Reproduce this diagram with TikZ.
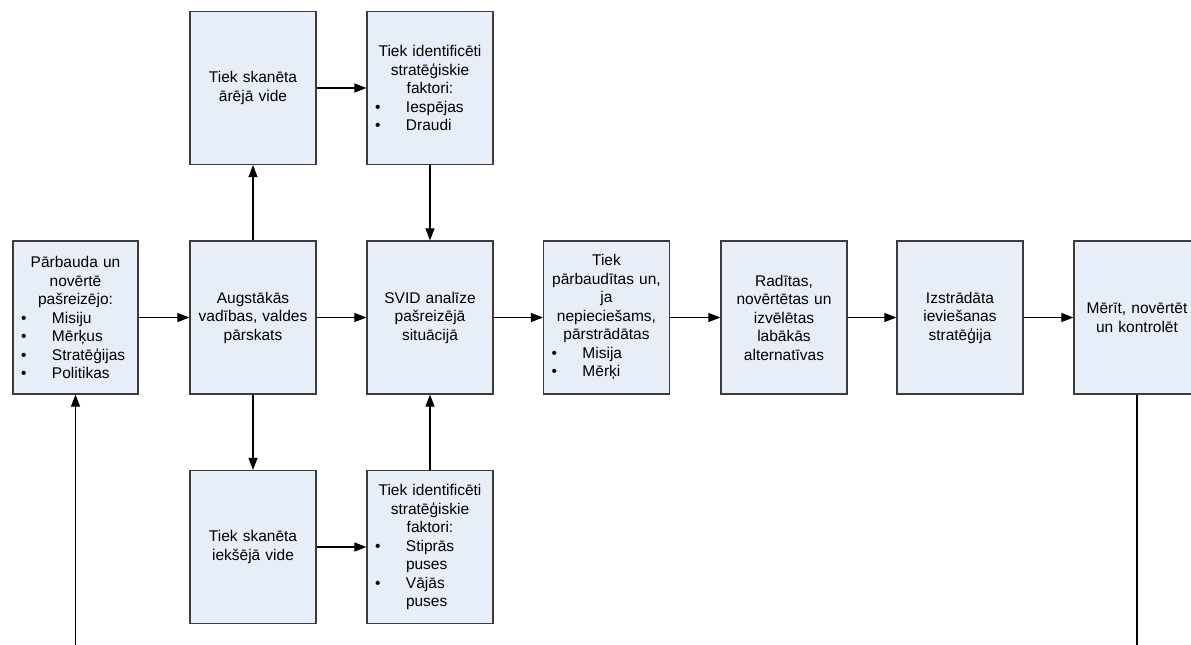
\documentclass[tikz,border=0pt]{standalone}
\usepackage{fontspec}
\setmainfont{Liberation Sans}
\usetikzlibrary{arrows.meta}
\definecolor{boxfill}{RGB}{232,238,247}
\definecolor{boxline}{RGB}{60,60,60}
% bullet line and its continuation line inside a box
\newcommand{\bitem}[1]{\par\hbox to\hsize{\makebox[39pt][l]{\hspace{8pt}\textbullet}#1\hfil}}
\newcommand{\bcont}[1]{\par\hbox to\hsize{\hspace{39pt}#1\hfil}}
\begin{document}
\begin{tikzpicture}[x=1pt,y=-1pt,
  stepbox/.style={draw=boxline, fill=boxfill, line width=1.2pt,
    minimum width=126pt, minimum height=153pt, inner sep=0pt,
    text width=126pt, align=center, font=\fontsize{15.5}{18.5}\selectfont},
  arr/.style={-{Triangle[length=12pt,width=9pt]}, line width=1.1pt},
  plain/.style={line width=1.1pt}]
\clip (0,0) rectangle (1191,645);

% main row
\node[stepbox, minimum width=125pt, text width=125pt] (b1) at (75.5,317.5)
  {Pārbauda un\\ novērtē\\ pašreizējo:
   \bitem{Misiju}\bitem{Mērķus}\bitem{Stratēģijas}\bitem{Politikas}};
\node[stepbox] (b2) at (253,317.5) {Augstākās\\ vadības, valdes\\ pārskats};
\node[stepbox] (b3) at (430,317.5) {SVID analīze\\ pašreizējā\\ situācijā};
\node[stepbox] (b4) at (606.5,317.5)
  {Tiek\\ pārbaudītas un,\\ ja\\ nepieciešams,\\ pārstrādātas
   \bitem{Misija}\bitem{Mērķi}};
\node[stepbox] (b5) at (784,317.5)
  {Radītas,\\ novērtētas un\\ izvēlētas\\ labākās\\ alternatīvas};
\node[stepbox] (b6) at (960,317.5) {Izstrādāta\\ ieviešanas\\ stratēģija};
\node[stepbox] (b7) at (1137,317.5) {Mērīt, novērtēt\\ un kontrolēt};

% external environment
\node[stepbox] (t1) at (253,88) {Tiek skanēta\\ ārējā vide};
\node[stepbox] (t2) at (430,88)
  {Tiek identificēti\\ stratēģiskie\\ faktori:
   \bitem{Iespējas}\bitem{Draudi}};

% internal environment
\node[stepbox] (u1) at (253,547) {Tiek skanēta\\ iekšējā vide};
\node[stepbox] (u2) at (430,547)
  {Tiek identificēti\\ stratēģiskie\\ faktori:
   \bitem{Stiprās}\bcont{puses}\bitem{Vājās}\bcont{puses}};

% feedback ends
\coordinate (feedin) at (75.5,645);
\coordinate (feedout) at (1137,645);

% connectors
\draw[arr] (b1.east) -- (b2.west);
\draw[arr] (b2.east) -- (b3.west);
\draw[arr] (b3.east) -- (b4.west);
\draw[arr] (b4.east) -- (b5.west);
\draw[arr] (b5.east) -- (b6.west);
\draw[arr] (b6.east) -- (b7.west);
\draw[arr] (b2.north) -- (t1.south);
\draw[arr] (t1.east) -- (t2.west);
\draw[arr] (t2.south) -- (b3.north);
\draw[arr] (b2.south) -- (u1.north);
\draw[arr] (u1.east) -- (u2.west);
\draw[arr] (u2.north) -- (b3.south);
\draw[arr] (feedin) -- (b1.south);
\draw[plain] (b7.south) -- (feedout);
\end{tikzpicture}
\end{document}
